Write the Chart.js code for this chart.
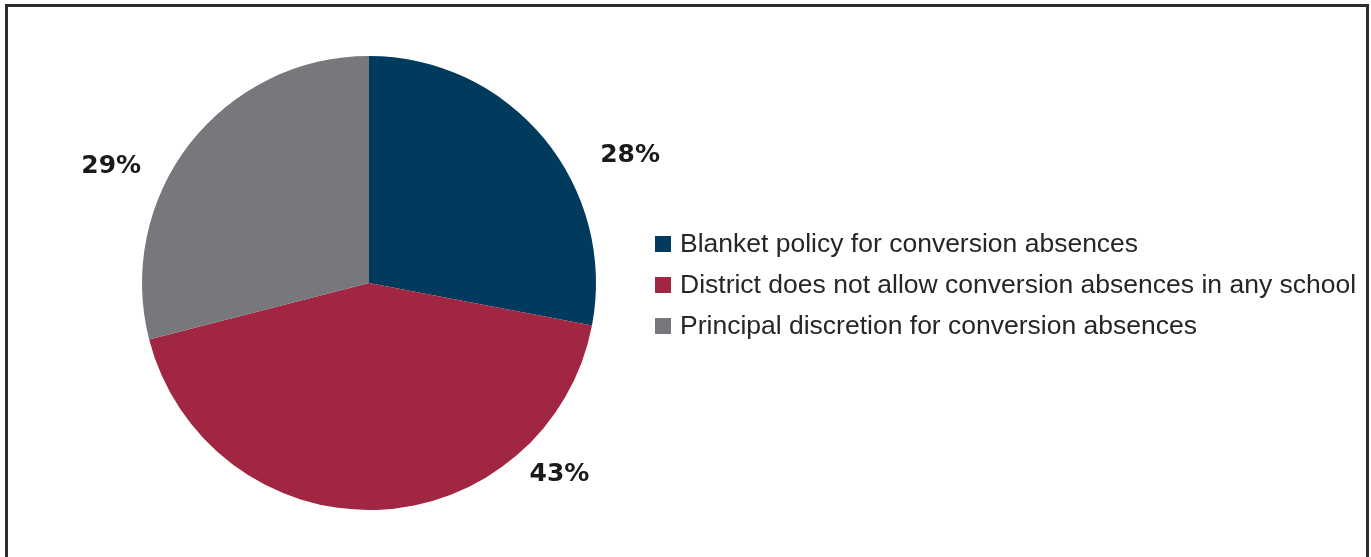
<!DOCTYPE html>
<html>
<head>
<meta charset="utf-8">
<script src="https://cdn.jsdelivr.net/npm/chart.js@4/dist/chart.umd.min.js"></script>
<style>
  body { margin: 0; background: #fff; overflow: hidden; }
  #wrap { position: relative; width: 1371px; height: 557px; }
  #canvas { position: absolute; left: 0; top: 0; }
  #frame { position: absolute; left: 5px; top: 4px; width: 1358px; height: 560px;
           border: 3px solid #2d2d2d; border-bottom: none; pointer-events: none; }
  #legend { position: absolute; left: 655px; top: 223px; font-family: "Liberation Sans", Arial, sans-serif;
            font-size: 26.5px; color: #262626; }
  #legend div { height: 41px; display: flex; align-items: center; white-space: nowrap; }
  #legend span.box { width: 16px; height: 16px; margin-right: 9px; display: inline-block; }
</style>
</head>
<body>
<div id="wrap">
  <canvas id="canvas" width="1371" height="557"></canvas>
  <div id="legend"></div>
  <div id="frame"></div>
</div>
<script>
var categories = ['Blanket policy for conversion absences',
                  'District does not allow conversion absences in any school',
                  'Principal discretion for conversion absences'];
var shares = [28, 43, 29];
var colors = ['#003a5d', '#a12641', '#77787b'];

// where each percent label sits: shift from the slice middle (deg) and gap past the rim (px)
var labelShift = [13, -43.5, -13];
var labelGap = [65, 41, 57];

// legend as plain html next to the pie
var legend = document.getElementById('legend');
categories.forEach(function(name, i){
    var row = document.createElement('div');
    var box = document.createElement('span');
    box.className = 'box';
    box.style.background = colors[i];
    row.appendChild(box);
    row.appendChild(document.createTextNode(name));
    legend.appendChild(row);
});

var pctLabels = {
    id: 'pctLabels',
    afterDatasetsDraw: function(chart){
        var ctx = chart.ctx;
        var meta = chart.getDatasetMeta(0);
        ctx.save();
        ctx.font = 'bold 25px "DejaVu Sans", sans-serif';
        ctx.fillStyle = '#1a1a1a';
        ctx.textAlign = 'center';
        ctx.textBaseline = 'middle';
        meta.data.forEach(function(arc, i){
            var p = arc.getProps(['x', 'y', 'startAngle', 'endAngle', 'outerRadius'], true);
            var a = (p.startAngle + p.endAngle) / 2 + labelShift[i] * Math.PI / 180;
            var r = p.outerRadius + labelGap[i];
            // +3 so the digits sit centred on the point, not the em box
            ctx.fillText(shares[i] + '%', p.x + Math.cos(a) * r, p.y + Math.sin(a) * r + 3);
        });
        ctx.restore();
    }
};

new Chart(document.getElementById('canvas'), {
    type: 'pie',
    data: {
        labels: categories,
        datasets: [{
            data: shares,
            backgroundColor: colors,
            borderWidth: 0
        }]
    },
    options: {
        responsive: false,
        animation: false,
        layout: { padding: { left: 142, right: 775, top: 56, bottom: 47 } },
        plugins: {
            legend: { display: false },
            tooltip: { enabled: false }
        }
    },
    plugins: [pctLabels]
});
</script>
</body>
</html>
